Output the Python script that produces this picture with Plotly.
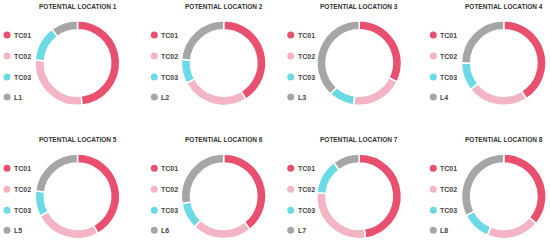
import plotly.graph_objects as go

# ---- data ----
titles = ["POTENTIAL LOCATION 1", "POTENTIAL LOCATION 2", "POTENTIAL LOCATION 3", "POTENTIAL LOCATION 4",
          "POTENTIAL LOCATION 5", "POTENTIAL LOCATION 6", "POTENTIAL LOCATION 7", "POTENTIAL LOCATION 8"]
loc_labels = ["L1", "L2", "L3", "L4", "L5", "L6", "L7", "L8"]
tc01 = [48.3, 41.2, 32.3, 41.0, 42.0, 39.3, 47.6, 36.1]
tc02 = [27.8, 25.8, 19.8, 23.3, 25.3, 22.9, 28.8, 20.3]
tc03 = [13.6, 9.3, 9.8, 10.7, 9.8, 10.1, 13.3, 11.1]
loc_vals = [10.3, 23.6, 38.0, 25.0, 22.9, 27.7, 10.3, 32.5]

colors = ["#E9506F", "#F3B4C4", "#6CDAE5", "#A6A6A6"]

W, H = 550, 243
col_cx = [77.5, 223.7, 359.2, 503.8]
row_cy = [63.0, 196.3]
R = 42.3
legend_dx = [-70.5, -69.4, -68.5, -70.5]
legend_dy = [-28, -7, 14, 34]
title_dy = -57

fig = go.Figure()
for i in range(8):
    r, c = divmod(i, 4)
    cx, cy = col_cx[c], row_cy[r]
    labels = ["TC01", "TC02", "TC03", loc_labels[i]]
    vals = [tc01[i], tc02[i], tc03[i], loc_vals[i]]
    fig.add_trace(go.Pie(
        labels=labels, values=vals, hole=0.785, sort=False, direction="clockwise",
        rotation=0, textinfo="none", showlegend=False,
        marker=dict(colors=colors, line=dict(color="white", width=1.5)),
        domain=dict(x=[(cx - R) / W, (cx + R) / W], y=[1 - (cy + R) / H, 1 - (cy - R) / H]),
    ))
    # title
    fig.add_annotation(x=cx, y=cy + title_dy, xref="x", yref="y", text="<b>" + titles[i] + "</b>",
                       showarrow=False, font=dict(family="Liberation Sans, Arial", size=6.5, color="#333333"),
                       xanchor="center", yanchor="middle")
    # legend
    mx = cx + legend_dx[c]
    fig.add_trace(go.Scatter(
        x=[mx] * 4, y=[cy + d for d in legend_dy], mode="markers", xaxis="x", yaxis="y",
        marker=dict(size=7, color=colors, line=dict(width=0)), showlegend=False, hoverinfo="skip"))
    for k, lab in enumerate(labels):
        fig.add_annotation(x=mx + 5, y=cy + legend_dy[k], xref="x", yref="y", text="<b>" + lab + "</b>",
                           showarrow=False, font=dict(family="Liberation Sans, Arial", size=7, color="#444444"),
                           xanchor="left", yanchor="middle")

fig.update_layout(
    width=W, height=H, margin=dict(l=0, r=0, t=0, b=0),
    paper_bgcolor="white", plot_bgcolor="rgba(0,0,0,0)",
    xaxis=dict(range=[0, W], visible=False, domain=[0, 1], fixedrange=True),
    yaxis=dict(range=[H, 0], visible=False, domain=[0, 1], fixedrange=True),
)
fig.write_html("out.html", post_script="document.body.style.margin='0px';document.body.style.overflow='hidden';",
               config={"displayModeBar": False})
